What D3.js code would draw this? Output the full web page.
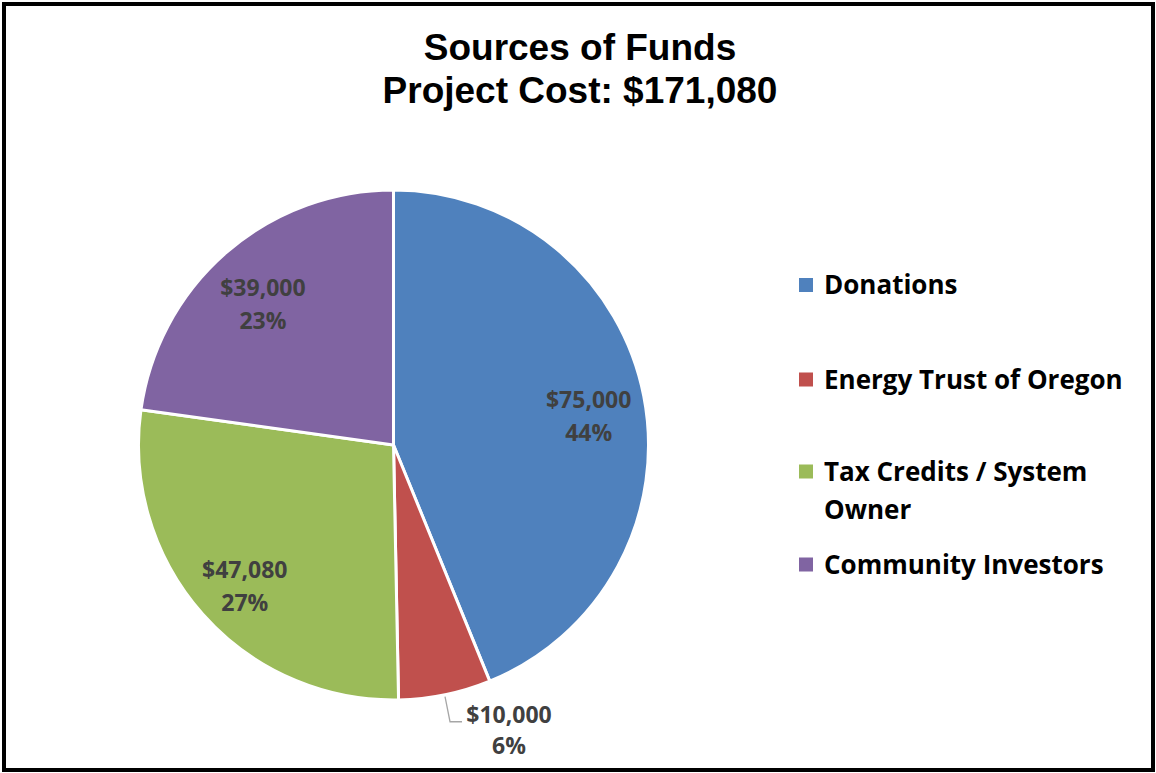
<!DOCTYPE html>
<html>
<head>
<meta charset="utf-8">
<script src="https://cdn.jsdelivr.net/npm/d3@7"></script>
<style>
  html, body { margin: 0; padding: 0; background: #fff; }
  svg { display: block; }
</style>
</head>
<body>
<svg id="chart" width="1156" height="773"></svg>
<script>
const categories = ["Donations", "Energy Trust of Oregon", "Tax Credits / System Owner", "Community Investors"];
const legendLines = [["Donations"], ["Energy Trust of Oregon"], ["Tax Credits / System", "Owner"], ["Community Investors"]];
const values = [75000, 10000, 47080, 39000];
const percentLabels = ["44%", "6%", "27%", "23%"];
const colors = ["#4F81BD", "#C0504D", "#9BBB59", "#8064A2"];
const titleLines = ["Sources of Funds", "Project Cost: $171,080"];
const outsideLabel = [false, true, false, false];

const svg = d3.select("#chart");
const W = 1156, H = 773;

svg.append("rect").attr("x", 0).attr("y", 0).attr("width", W).attr("height", H).attr("fill", "#fff");
svg.append("rect").attr("x", 4).attr("y", 4).attr("width", W - 7).attr("height", H - 7)
  .attr("fill", "none").attr("stroke", "#000").attr("stroke-width", 4);

// Title
const title = svg.append("text").attr("text-anchor", "middle")
  .attr("font-family", "'Liberation Sans', Arial, sans-serif").attr("font-weight", "bold")
  .attr("font-size", 37).attr("fill", "#000");
title.selectAll("tspan").data(titleLines).join("tspan")
  .attr("x", 580).attr("y", (d, i) => i === 0 ? 60 : 103).text(d => d);

// Pie
const cx = 393.5, cy = 445, R = 255;
const pie = d3.pie().sort(null).value(d => d)(values);
const arc = d3.arc().innerRadius(0).outerRadius(R);
const labelArc = d3.arc().innerRadius(R * 0.78).outerRadius(R * 0.78);

const g = svg.append("g").attr("transform", `translate(${cx},${cy})`);
g.selectAll("path").data(pie).join("path")
  .attr("d", arc).attr("fill", (d, i) => colors[i])
  .attr("stroke", "#fff").attr("stroke-width", 3).attr("stroke-linejoin", "round");

const fmt = d3.format("$,");
const labelFont = "'Open Sans', 'Noto Sans', sans-serif";

pie.forEach((d, i) => {
  let x, y1, y2;
  if (!outsideLabel[i]) {
    const [lx, ly] = labelArc.centroid(d);
    x = lx; y1 = ly + 1; y2 = ly + 34;
  } else {
    const mid = (d.startAngle + d.endAngle) / 2;
    const ex = Math.sin(mid) * R, ey = -Math.cos(mid) * R;
    const by = ey + 27, bx = ex + 5;
    g.append("polyline")
      .attr("points", `${ex},${ey + 2} ${bx},${by} ${bx + 12},${by}`)
      .attr("fill", "none").attr("stroke", "#a6a6a6").attr("stroke-width", 1.3);
    x = bx + 12 + 47; y1 = by + 1; y2 = by + 32;
  }
  const t = g.append("text").attr("text-anchor", "middle")
    .attr("font-family", labelFont).attr("font-weight", "bold")
    .attr("font-size", 23).attr("fill", "#404040");
  t.append("tspan").attr("x", x).attr("y", y1).text(fmt(values[i]));
  t.append("tspan").attr("x", x).attr("y", y2).text(percentLabels[i]);
});

// Legend
const legendY = [285, 379.5, 471.5, 564.5];
const lg = svg.append("g");
categories.forEach((c, i) => {
  const row = lg.append("g").attr("transform", `translate(799,${legendY[i]})`);
  row.append("rect").attr("x", 0).attr("y", -7).attr("width", 14).attr("height", 14).attr("fill", colors[i]);
  const t = row.append("text").attr("font-family", labelFont).attr("font-weight", "bold")
    .attr("font-size", 26).attr("fill", "#000");
  legendLines[i].forEach((line, j) => {
    t.append("tspan").attr("x", 25).attr("y", 9 + j * 38).text(line);
  });
});
</script>
</body>
</html>
